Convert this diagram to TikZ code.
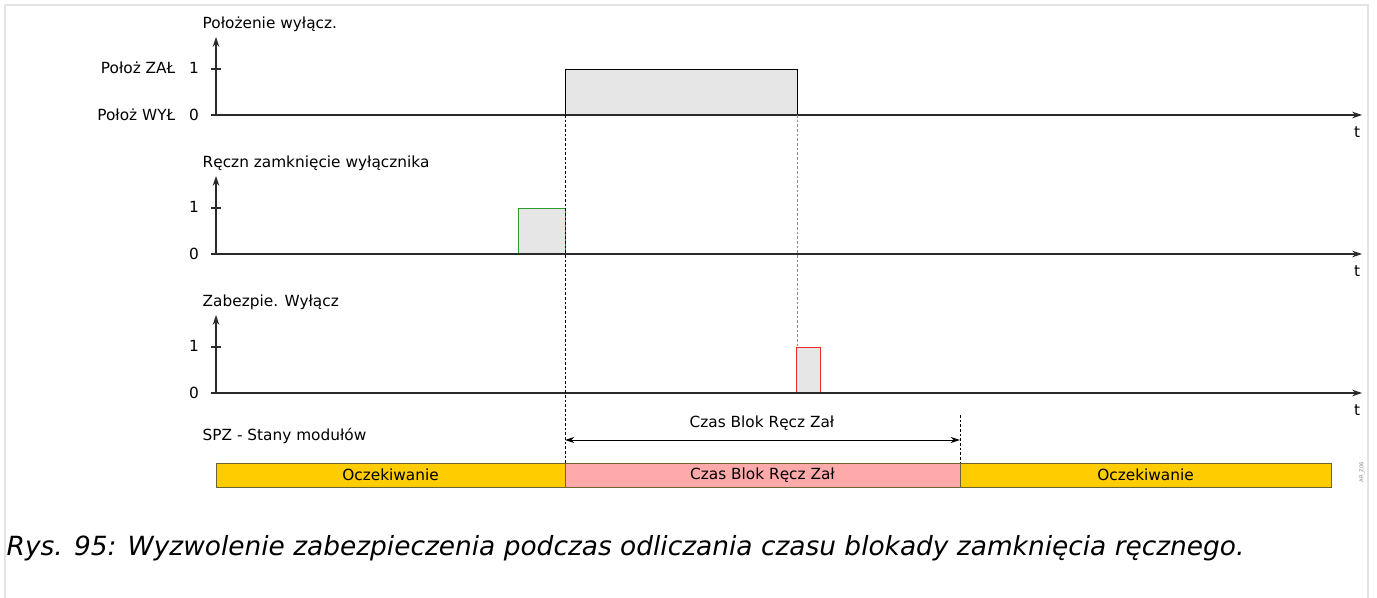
\documentclass[tikz,border=0pt]{standalone}
\usepackage{fontspec}
\setmainfont{DejaVu Sans}
\usetikzlibrary{positioning, arrows.meta, calc}
\definecolor{cFrame}  {HTML}{E4E4E4}
\definecolor{cPulse}  {HTML}{E6E6E6}
\definecolor{cGreen}  {HTML}{2E9A2E}
\definecolor{cRed}    {HTML}{EE2828}
\definecolor{cWait}   {HTML}{FFCC00}
\definecolor{cBlock}  {HTML}{FFAAAA}
\definecolor{cBarEdge}{HTML}{6E6230}
\definecolor{cMuted}  {HTML}{8A8A8A}
\definecolor{cAxis}   {HTML}{2A2A2A}

\begin{document}
\begin{tikzpicture}[x=0.75pt, y=-0.75pt, font=\fontsize{11.5}{13.5}\selectfont,
    axisline/.style={-{Stealth[length=7.5pt, width=5pt]}, line width=0.9pt, draw=cAxis},
    tick/.style={line width=0.8pt, draw=cAxis},
    pulse/.style={fill=cPulse, line width=0.7pt},
    marker/.style={line width=0.5pt, dash pattern=on 2pt off 1.5pt},
    barseg/.style={draw=cBarEdge, line width=0.6pt},
    dimarrow/.style={{Stealth[length=7pt, width=4.5pt]}-{Stealth[length=7pt, width=4.5pt]}, line width=0.7pt},
  ]
  \useasboundingbox (0,0) rectangle (1377,598);
  % page frame
  \draw[cFrame, line width=1.5pt] (5,598) -- (5,5) -- (1368,5) -- (1368,598);

  % --- signal 1: breaker position
  \node[anchor=west] (lab1) at (198,24) {Położenie wyłącz.};
  \node[anchor=east] (on1) at (180,68) {Położ ZAŁ};
  \node[anchor=east] (off1) at (180,115) {Położ WYŁ};
  \node (one1) at (194,68) {1};
  \node (zero1) at (194,115) {0};
  \coordinate (o1) at (216,116);
  \coordinate (top1) at (216,37);
  \coordinate (xs1) at (211,115);
  \coordinate (xe1) at (1362,115);
  \draw[tick] (211,69) -- (221,69);
  \draw[pulse] (565,115) -- (565,69) -- (797,69) -- (797,115);
  \draw[axisline] (o1) -- (top1);
  \draw[axisline] (xs1) -- (xe1);
  \node (t1) at (1357,132) {t};

  % --- signal 2: manual close
  \node[anchor=west] (lab2) at (198,163) {Ręczn zamknięcie wyłącznika};
  \node (one2) at (194,207) {1};
  \node (zero2) at (194,254) {0};
  \coordinate (o2) at (216,255);
  \coordinate (top2) at (216,176);
  \coordinate (xs2) at (211,254);
  \coordinate (xe2) at (1362,254);
  \draw[tick] (211,208) -- (221,208);
  \draw[pulse, draw=cGreen] (518,254) -- (518,208) -- (565,208) -- (565,254);
  \draw[axisline] (o2) -- (top2);
  \draw[axisline] (xs2) -- (xe2);
  \node (t2) at (1357,271) {t};

  % --- signal 3: protection trip
  \node[anchor=west] (lab3) at (198,302) {Zabezpie. Wyłącz};
  \node (one3) at (194,346) {1};
  \node (zero3) at (194,393) {0};
  \coordinate (o3) at (216,394);
  \coordinate (top3) at (216,315);
  \coordinate (xs3) at (211,393);
  \coordinate (xe3) at (1362,393);
  \draw[tick] (211,347) -- (221,347);
  \draw[pulse, draw=cRed] (796,393) rectangle (820,347);
  \draw[axisline] (o3) -- (top3);
  \draw[axisline] (xs3) -- (xe3);
  \node (t3) at (1357,410) {t};

  % --- time markers
  \coordinate (mA) at (565,115);
  \coordinate (mAbar) at (565,463);
  \coordinate (mB) at (797,115);
  \coordinate (mBtrip) at (797,347);
  \coordinate (mC) at (960,415);
  \coordinate (mCbar) at (960,463);
  \draw[marker] (mA) -- (mAbar);
  \draw[marker, draw=cMuted] (mB) -- (mBtrip);
  \draw[marker] (mC) -- (mCbar);
  \coordinate (dimA) at (565,440);
  \coordinate (dimC) at (960,440);
  \draw[dimarrow] (dimA) -- (dimC);
  \node (dimlab) at (762,423) {Czas Blok Ręcz Zał};

  % --- module states
  \node[anchor=west] (lab4) at (198,436) {SPZ - Stany modułów};
  \draw[barseg, fill=cWait] (216,463) rectangle (565,487);
  \draw[barseg, fill=cBlock] (565,463) rectangle (960,487);
  \draw[barseg, fill=cWait] (960,463) rectangle (1331,487);
  \node (wait1) at (390.5,475) {Oczekiwanie};
  \node (block) at (762.5,475) {Czas Blok Ręcz Zał};
  \node (wait2) at (1145.5,475) {Oczekiwanie};
  \node[rotate=90, text=cMuted, font=\fontsize{4}{5}\selectfont] (tag) at (1362,472) {AR\_Z06};

  % --- caption
  \node[anchor=west, font=\fontsize{19.8}{24}\selectfont\itshape] (cap) at (2,548)
    {Rys. 95: Wyzwolenie zabezpieczenia podczas odliczania czasu blokady zamknięcia ręcznego.};
\end{tikzpicture}
\end{document}
